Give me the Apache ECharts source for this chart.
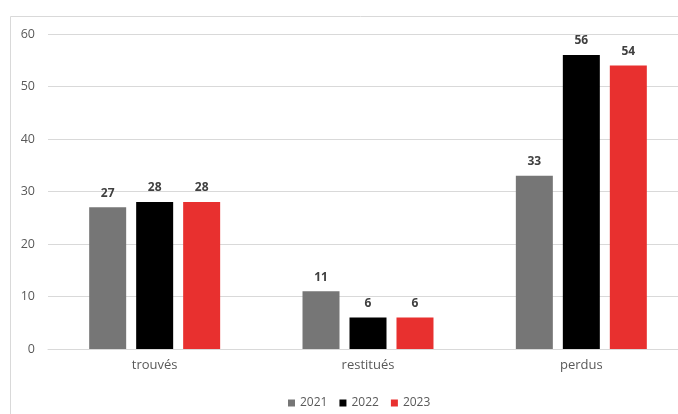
<!DOCTYPE html>
<html><head><meta charset="utf-8">
<script src="https://cdn.jsdelivr.net/npm/echarts@6/dist/echarts.min.js"></script>
<style>html,body{margin:0;padding:0;background:#fff;overflow:hidden;width:678px;height:414px;}#c{width:720px;height:414px;}</style>
</head><body><div id="c"></div>
<script>
const categories = ['trouvés', 'restitués', 'perdus'];
const years = ['2021', '2022', '2023'];
const v2021 = [27, 11, 33];
const v2022 = [28, 6, 56];
const v2023 = [28, 6, 54];
const colors = ['#767676', '#000000', '#e8302f'];
const yTicks = [0, 10, 20, 30, 40, 50, 60];

const chart = echarts.init(document.getElementById('c'), null, {renderer: 'canvas'});
const vals = [v2021, v2022, v2023];
chart.setOption({
  animation: false,
  textStyle: {fontFamily: 'Open Sans, Noto Sans, sans-serif'},
  graphic: [{type: 'rect', shape: {x: 10.5, y: 16.5, width: 700, height: 430}, style: {fill: 'none', stroke: '#d9d9d9', lineWidth: 1}, z: -1}],
  grid: {left: 48, top: 34, width: 640, height: 315, containLabel: false},
  legend: {top: 392, left: 283, itemWidth: 7, itemHeight: 7, itemGap: 12, icon: 'rect',
    textStyle: {color: '#595959', fontSize: 12, padding: [0, 0, 0, 0]}, data: years},
  xAxis: {type: 'category', data: categories,
    axisLine: {show: true, lineStyle: {color: '#d9d9d9'}}, axisTick: {show: false},
    axisLabel: {color: '#595959', fontSize: 13, margin: 10}},
  yAxis: {type: 'value', min: yTicks[0], max: yTicks[yTicks.length - 1], interval: 10,
    axisLine: {show: false}, axisTick: {show: false},
    splitLine: {lineStyle: {color: '#d9d9d9'}},
    axisLabel: {color: '#595959', fontSize: 12.5, margin: 13}},
  series: years.map((y, i) => ({
    name: y, type: 'bar', data: vals[i], barWidth: 37, barGap: '27%',
    itemStyle: {color: colors[i]},
    label: {show: true, position: 'top', color: '#404040', fontSize: 12, fontWeight: 'bold', distance: 8}
  }))
});
</script></body></html>
